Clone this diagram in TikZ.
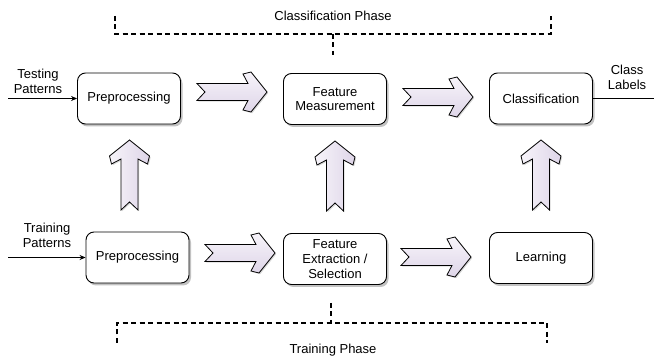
\documentclass[tikz,border=0pt]{standalone}
\usepackage{fontspec}
\setmainfont{Liberation Sans}
\usetikzlibrary{shadows,arrows.meta}
\definecolor{arrowlight}{RGB}{247,244,250}
\definecolor{arrowdark}{RGB}{222,213,232}
\begin{document}
\begin{tikzpicture}[x=1pt,y=-1pt,
  font=\fontsize{13}{14.8}\selectfont,
  proc/.style={draw, line width=0.9pt, rounded corners=8pt, fill=white,
    minimum width=103pt, minimum height=51pt, align=center,
    drop shadow={shadow xshift=2pt, shadow yshift=-2.5pt, fill=black!40, opacity=0.6}},
  arrowbody/.style={draw, line width=0.8pt, miter limit=4,
    top color=arrowlight, bottom color=arrowdark,
    drop shadow={shadow xshift=1.2pt, shadow yshift=-1.2pt, fill=black!30, opacity=0.5}},
  blockarrow/.pic={
    \path[arrowbody] (0,-8.5) -- (51,-8.5) -- (46,-18) -- (54,-20) -- (70,0)
      -- (54,20) -- (46,18) -- (51,8.5) -- (0,8.5) -- (8,0) -- cycle;
  },
  phase/.style={line width=1.6pt, dash pattern=on 5pt off 3.5pt},
  phaseshadow/.style={phase, draw=black!25, shift={(1pt,-1.5pt)}},
  feed/.style={line width=0.8pt},
  lbl/.style={align=center, inner sep=0pt}
]
\useasboundingbox (0,0) rectangle (654,358);

% processing blocks
\node[proc] (pretest)  at (129,98.5)  {Preprocessing};
\node[proc] (measure)  at (335,99)    {Feature\\Measurement};
\node[proc] (classify) at (541,98.5)  {Classification};
\node[proc] (pretrain) at (137.5,257.5) {Preprocessing};
\node[proc] (extract)  at (335,259)   {Feature\\Extraction /\\Selection};
\node[proc] (learn)    at (541,258)   {Learning};

% block arrows between the stages
\pic (flowA) at (197,92)  {blockarrow};
\pic (flowB) at (403,97)  {blockarrow};
\pic (flowC) at (205,253) {blockarrow};
\pic (flowD) at (401,257) {blockarrow};
\begin{scope}[arrowbody/.append style={left color=arrowlight, right color=arrowdark}]
  \pic[rotate=90] (upA) at (129.5,210) {blockarrow};
  \pic[rotate=90] (upB) at (335,211)   {blockarrow};
  \pic[rotate=90] (upC) at (541,210)   {blockarrow};
\end{scope}

% inputs and output
\coordinate (testin)  at (8,98.5);
\coordinate (trainin) at (8,257.5);
\coordinate (labout)  at (654,98.5);
\draw[feed,-{Stealth[length=6pt,width=5pt]}] (testin) -- (pretest);
\draw[feed,-{Stealth[length=6pt,width=5pt]}] (trainin) -- (pretrain);
\draw[feed] (classify) -- (labout);
\node[lbl] (testlbl)  at (38,81)   {Testing\\Patterns};
\node[lbl] (trainlbl) at (47,235)  {Training\\Patterns};
\node[lbl] (outlbl)   at (627,77)  {Class\\Labels};

% phase brackets
\coordinate (ctl) at (115,16);  \coordinate (ctr) at (551,16);
\coordinate (cbl) at (115,34);  \coordinate (cbr) at (551,34);
\coordinate (cst) at (333,34);  \coordinate (csb) at (333,55);
\coordinate (ttl) at (117,323); \coordinate (ttr) at (547,323);
\coordinate (tbl) at (117,343); \coordinate (tbr) at (547,343);
\coordinate (tst) at (331,303); \coordinate (tsb) at (331,323);
\foreach \sty in {phaseshadow,phase}{
  \draw[\sty] (ctl) -- (cbl) -- (cbr) -- (ctr);
  \draw[\sty] (cst) -- (csb);
  \draw[\sty] (tbl) -- (ttl) -- (ttr) -- (tbr);
  \draw[\sty] (tst) -- (tsb);
}
\node[lbl] (classphase) at (333,16)  {Classification Phase};
\node[lbl] (trainphase) at (333,350) {Training Phase};
\end{tikzpicture}
\end{document}
